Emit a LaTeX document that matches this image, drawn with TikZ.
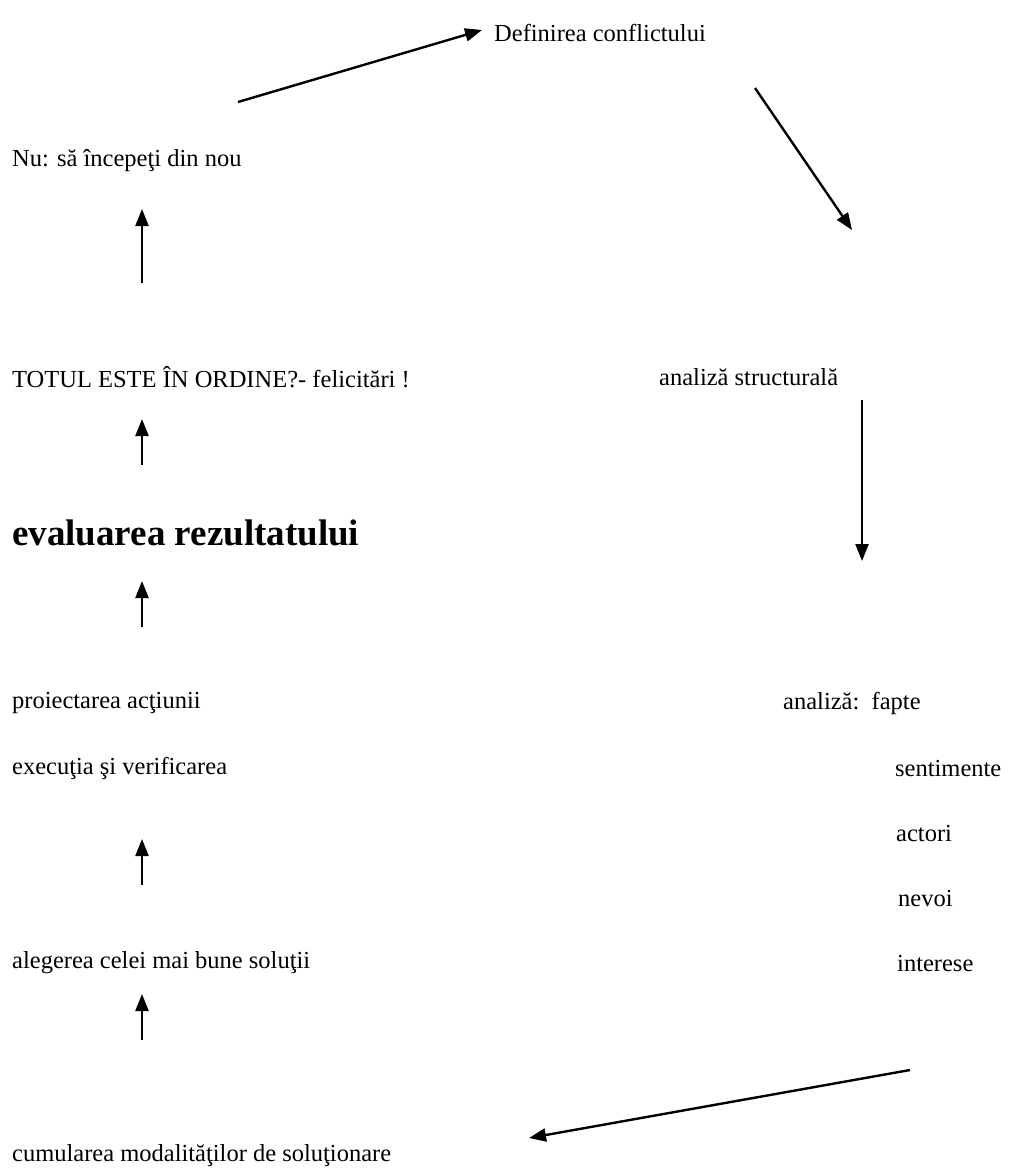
\documentclass[tikz,border=0pt]{standalone}
\usepackage{fontspec}
\setmainfont{Liberation Serif}
\usetikzlibrary{arrows.meta}
\begin{document}
\begin{tikzpicture}[x=1pt,y=-1pt,
  lbl/.style={anchor=west,inner sep=0pt,font=\fontsize{24.5}{28}\selectfont},
  big/.style={anchor=west,inner sep=0pt,font=\fontsize{37}{42}\selectfont\bfseries},
  arr/.style={line width=2.4pt,-{Triangle[length=17pt,width=13pt]}}]
\useasboundingbox[fill=white] (0,0) rectangle (1022,1173);
\node[lbl] (def) at (494,33) {Definirea conflictului};
\node[lbl] (nu) at (12,161) {Nu: să începeţi din nou};
\node[lbl] (tot) at (12,377) {TOTUL ESTE ÎN ORDINE?- felicitări !};
\node[lbl] (as) at (659,377) {analiză structurală};
\node[big] (eval) at (12,533) {evaluarea rezultatului};
\node[lbl] (proi) at (12,703) {proiectarea acţiunii};
\node[lbl] (anal) at (783,703) {analiză:\ \ fapte};
\node[lbl] (exec) at (12,768) {execuţia şi verificarea};
\node[lbl] (sent) at (895,768) {sentimente};
\node[lbl] (act) at (896,833) {actori};
\node[lbl] (nev) at (898,898) {nevoi};
\node[lbl] (aleg) at (12,963) {alegerea celei mai bune soluţii};
\node[lbl] (int) at (897,963) {interese};
\node[lbl] (cum) at (12,1156) {cumularea modalităţilor de soluţionare};
% free ends of the connectors
\coordinate (a1s) at (238,102); \coordinate (a1e) at (482,30);
\coordinate (a2s) at (755,88);  \coordinate (a2e) at (852,230);
\coordinate (a3s) at (142,283); \coordinate (a3e) at (142,209);
\coordinate (a4s) at (142,465); \coordinate (a4e) at (142,419);
\coordinate (a5s) at (862,400); \coordinate (a5e) at (862,561);
\coordinate (a6s) at (142,627); \coordinate (a6e) at (142,581);
\coordinate (a7s) at (142,885); \coordinate (a7e) at (142,839);
\coordinate (a8s) at (142,1040); \coordinate (a8e) at (142,994);
\coordinate (a9s) at (910,1070); \coordinate (a9e) at (529,1138);
\draw[arr] (a1s) -- (a1e);
\draw[arr] (a2s) -- (a2e);
\draw[arr] (a3s) -- (a3e);
\draw[arr] (a4s) -- (a4e);
\draw[arr] (a5s) -- (a5e);
\draw[arr] (a6s) -- (a6e);
\draw[arr] (a7s) -- (a7e);
\draw[arr] (a8s) -- (a8e);
\draw[arr] (a9s) -- (a9e);
\end{tikzpicture}
\end{document}
